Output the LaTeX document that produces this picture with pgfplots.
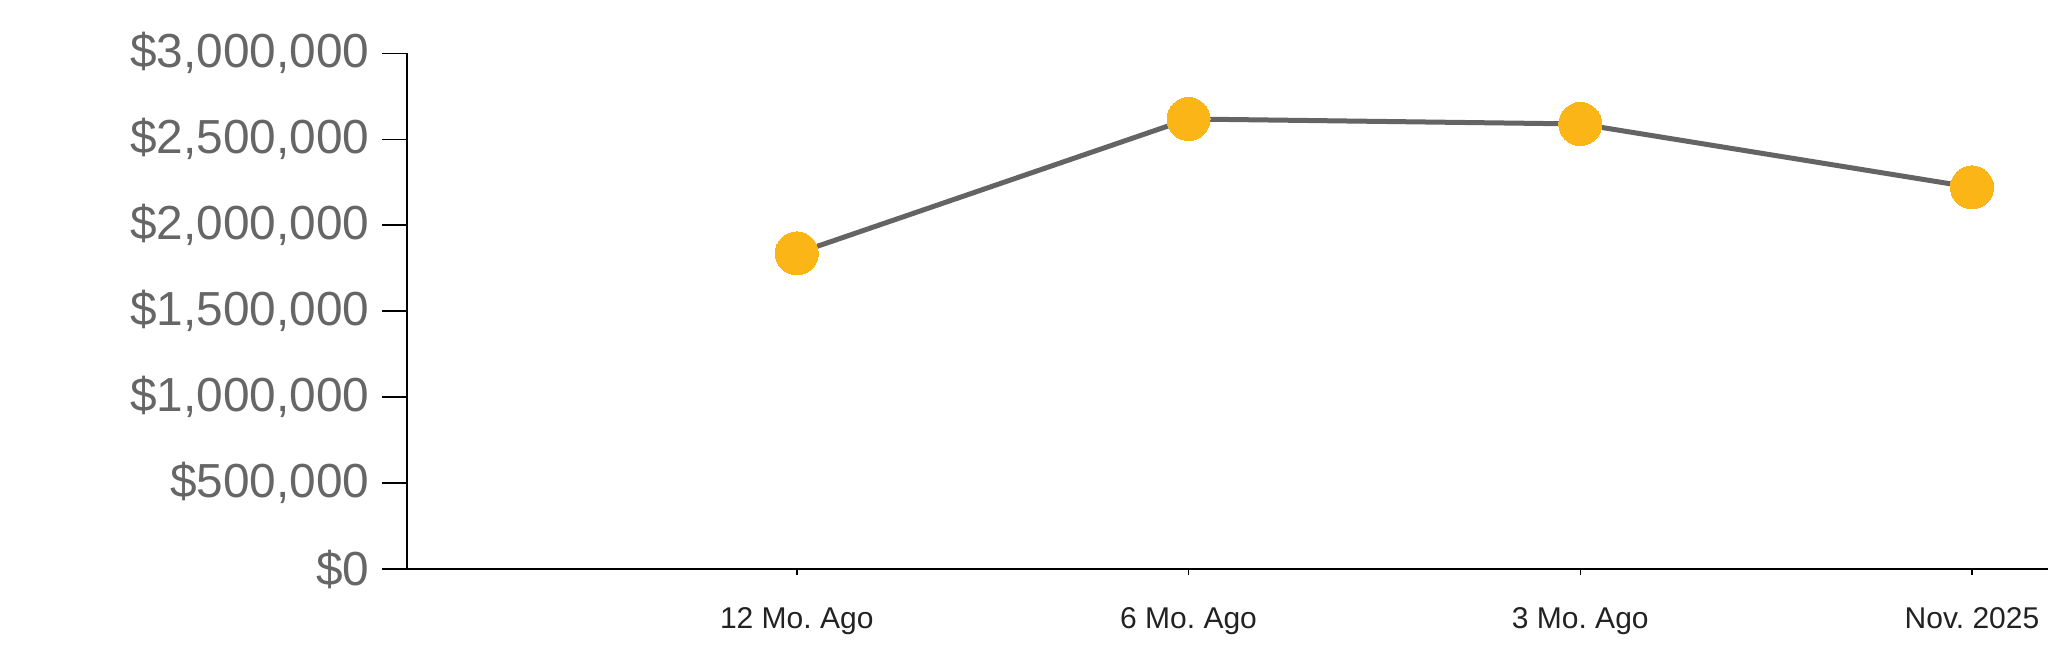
\documentclass[border=0pt]{standalone}
\usepackage{pgfplots}
\pgfplotsset{compat=1.18}
\usepackage{fontspec}
\setmainfont{Liberation Sans}
\frenchspacing
\definecolor{linegray}{HTML}{646464}
\definecolor{mk}{HTML}{FBB517}
\definecolor{ylab}{HTML}{666666}
\definecolor{xlab}{HTML}{222222}
\begin{document}
\begin{tikzpicture}
\path[use as bounding box] (0,0) rectangle (20.48cm,6.63cm);
\begin{axis}[
  at={(4.07cm,0.94cm)}, anchor=south west,
  scale only axis, width=16.41cm, height=5.157cm,
  xmin=-0.995, xmax=3.194, ymin=0, ymax=3000000,
  clip=false,
  scaled y ticks=false,
  axis lines=left,
  axis line style={-, black, line width=0.15mm},
  tick align=outside, major tick length=2.5mm,
  tick style={black, line width=0.15mm},
  ytick={0,500000,1000000,1500000,2000000,2500000,3000000},
  yticklabels={\$0,{\$500,000},{\$1,000,000},{\$1,500,000},{\$2,000,000},{\$2,500,000},{\$3,000,000}},
  yticklabel style={font=\fontsize{13.6}{16}\selectfont, text=ylab},
  xtick=\empty,
  extra x ticks={-1,0,1,2,3},
  extra x tick labels={{},12 Mo. Ago,6 Mo. Ago,3 Mo. Ago,Nov. 2025},
  extra x tick style={major tick length=0.6mm, xticklabel style={font=\fontsize{8.54}{10}\selectfont, text=xlab, yshift=-2mm}},
]
\addplot[linegray, line width=0.5mm, mark=*, mark size=2.15mm,
  mark options={fill=mk, draw=mk, line width=0pt}]
  coordinates {(0,1836500)(1,2618000)(2,2589000)(3,2220500)};
\end{axis}
\end{tikzpicture}
\end{document}
